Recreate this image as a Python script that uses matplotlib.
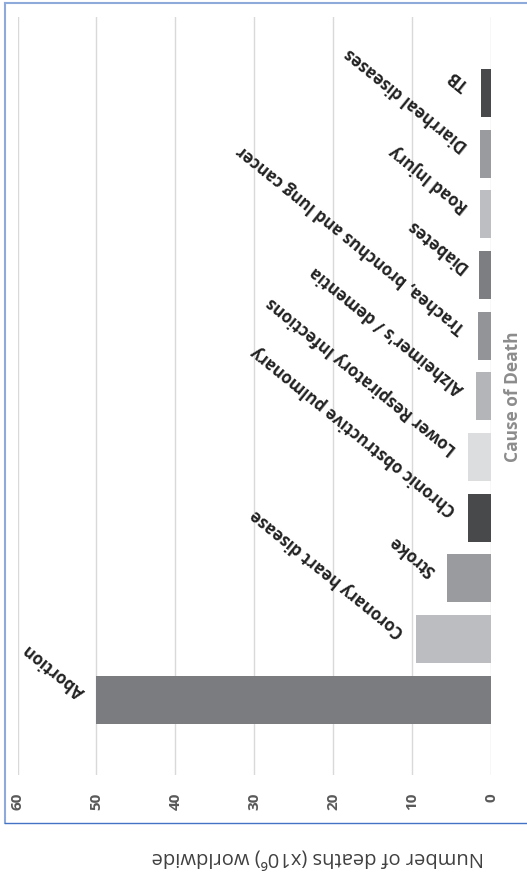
import matplotlib
matplotlib.use("Agg")
import matplotlib.pyplot as plt
from matplotlib.lines import Line2D

plt.rcParams['font.family'] = ['Open Sans', 'DejaVu Sans']

# categories from bottom (first) to top
causes = ["Abortion", "Coronary heart disease", "Stroke",
          "Chronic obstructive pulmonary", "Lower Respiratory Infections",
          "Alzheimer's / dementia", "Trachea, bronchus and lung cancer",
          "Diabetes", "Road Injury", "Diarrheal diseases", "TB"]
deaths = [50.0, 9.55, 5.6, 2.95, 2.95, 1.95, 1.75, 1.55, 1.4, 1.45, 1.35]
bar_colors = ["#7b7c80", "#bcbdc0", "#9a9b9e", "#48494b", "#dcdddf",
              "#b4b5b8", "#939497", "#7d7e82", "#bdbec1", "#9a9b9e", "#48494b"]
ticks = [0, 10, 20, 30, 40, 50, 60]

W, H = 527, 877
fig = plt.figure(figsize=(W / 100, H / 100), dpi=100)
ax = fig.add_axes([17.5 / W, 1 - 775 / H, (491.4 - 17.5) / W, (775 - 17) / H])

pos = list(range(len(causes)))
ax.barh(pos, deaths, height=0.79, color=bar_colors, zorder=2)
ax.set_xlim(60, 0)
ax.set_ylim(-1.24, len(causes) - 1 + 1.25)
ax.set_xticks(ticks)
ax.set_xticklabels([str(t) for t in ticks], rotation=90, fontsize=11,
                   fontweight='bold', color='#595959')
ax.tick_params(axis='x', length=0, pad=13)
ax.set_yticks([])
ax.grid(axis='x', color='#d9d9d9', lw=1)
ax.set_axisbelow(True)
for s in ax.spines.values():
    s.set_visible(False)

for i, (name, v) in enumerate(zip(causes, deaths)):
    ax.annotate(name, xy=(v, i), xytext=(-10, 4), textcoords='offset points',
                rotation=141, rotation_mode='anchor', ha='left', va='center',
                fontsize=12, fontweight='bold', color='#222222',
                annotation_clip=False)

fig.text(513 / W, 1 - 397 / H, "Cause of Death", rotation=90, ha='center',
         va='center', fontsize=12.5, fontweight='bold', color='#8c8c8c')
fig.text(318 / W, 1 - 858 / H, "Number of deaths (x10\u2076) worldwide",
         rotation=180, ha='center', va='center', fontsize=14.5, color='#404040')

# chart border
fig.add_artist(Line2D([5 / W, 5 / W], [1 - 3 / H, 1 - 823 / H],
                      transform=fig.transFigure, color='#8eaadb', lw=1.5))
fig.add_artist(Line2D([5 / W, 1], [1 - 3 / H, 1 - 3 / H],
                      transform=fig.transFigure, color='#8eaadb', lw=1.5))
fig.add_artist(Line2D([5 / W, 1], [1 - 823 / H, 1 - 823 / H],
                      transform=fig.transFigure, color='#4472c4', lw=1))

fig.savefig("out.png", dpi=100)
